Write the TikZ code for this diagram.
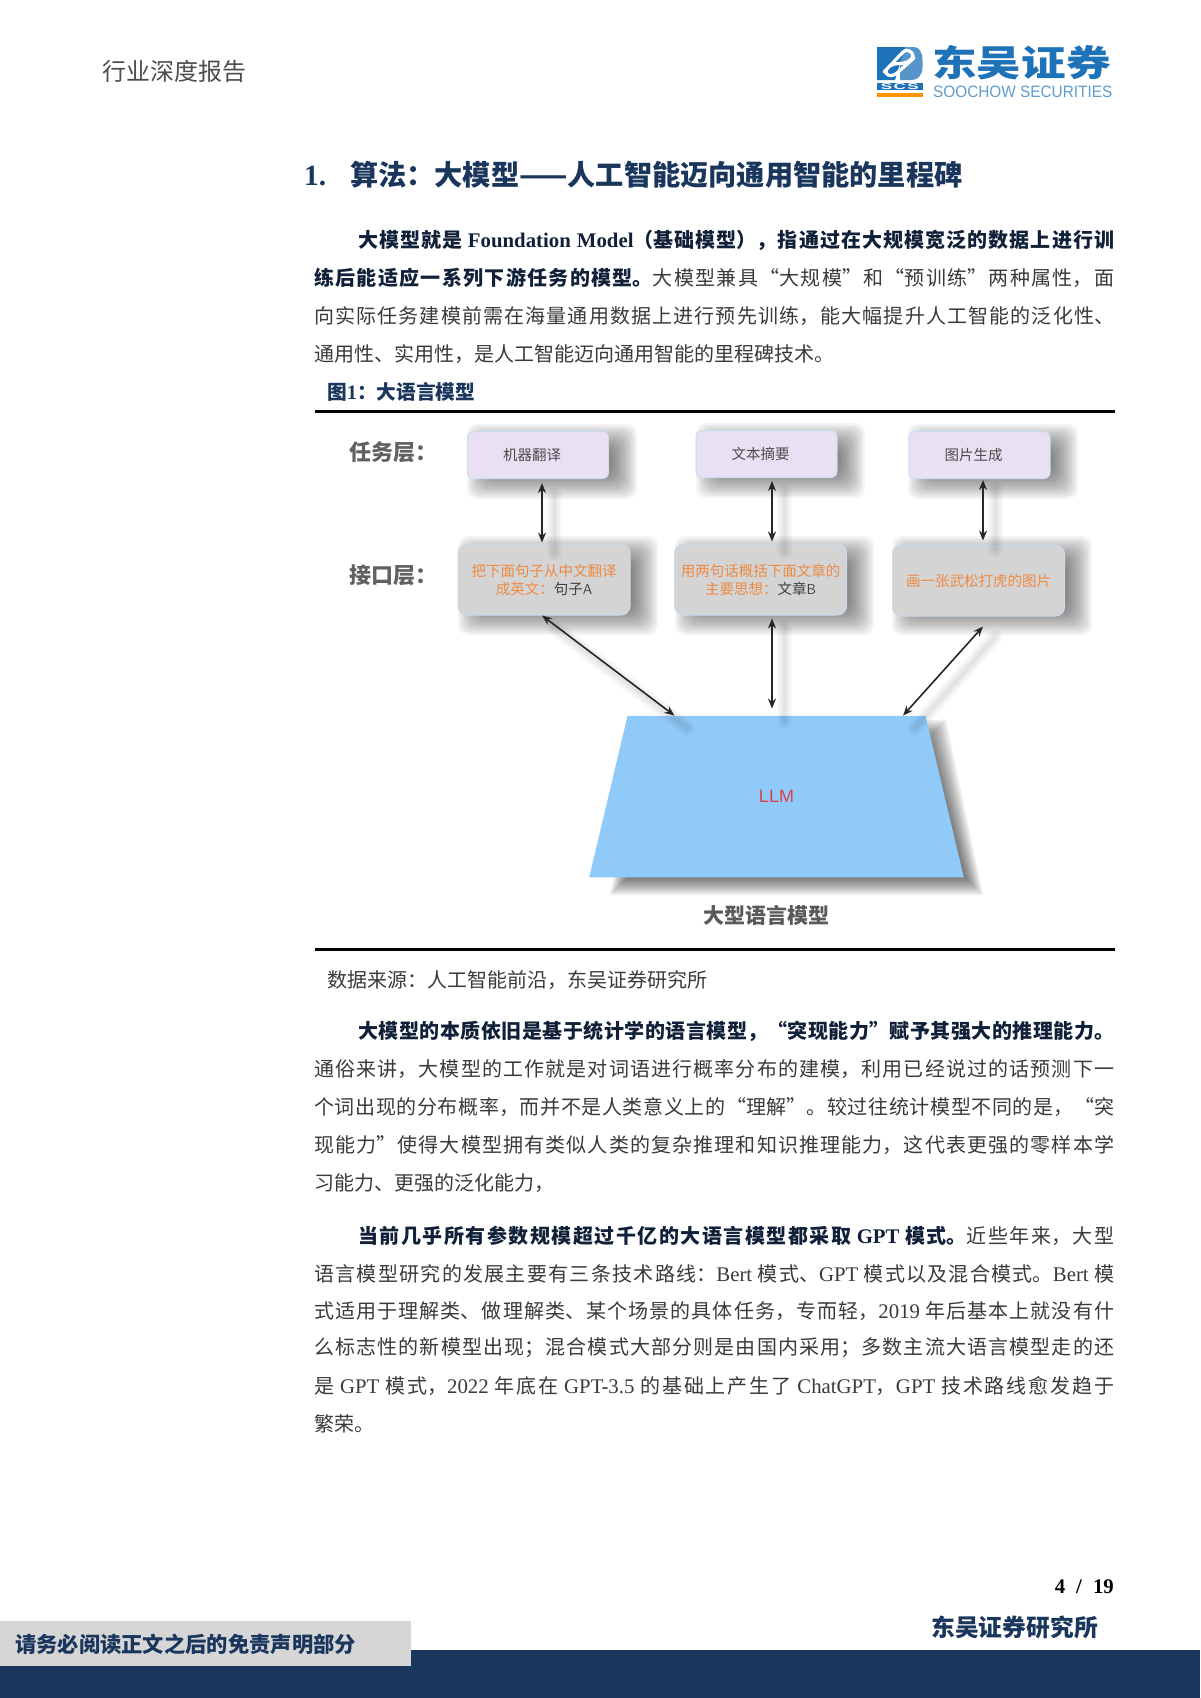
\documentclass[tikz,border=0pt]{standalone}
\usepackage{fontspec}
\usetikzlibrary{shapes.geometric,calc,arrows.meta}
\setmainfont{Noto Sans CJK SC}
\newfontfamily\lat[Scale=1.04]{Liberation Serif}
\newfontfamily\lsans{Liberation Sans}
\XeTeXlinebreaklocale "zh"
\XeTeXlinebreakskip=0pt plus 3pt
\definecolor{navy}{HTML}{1A365D}
\definecolor{bodyc}{HTML}{3A3A3A}
\definecolor{taskc}{HTML}{E9E1F3}
\definecolor{ifacec}{HTML}{D4D4D4}
\definecolor{edgec}{HTML}{C9DCF0}
\definecolor{llmc}{HTML}{90CAF9}
\definecolor{orangec}{HTML}{EE8A45}
\definecolor{logoblue}{HTML}{1E72B8}
\newcommand\lt[1]{{\lat #1}}
\newcommand\softrect[4]{\foreach \i in {-14,-12,...,14}{\fill[black,opacity=.045,rounded corners=10pt] ({#1-(\i)},{#2-(\i)}) rectangle ({#3+(\i)},{#4+(\i)});}}
\newcommand\softline[4]{\foreach \w in {3,7,11,15}{\draw[black,opacity=.028,line width=\w pt,line cap=round] (#1,#2) -- (#3,#4);}}
\newcommand\jl[5]{\node[inner sep=0,anchor=west,text=#4] (#1) at (#2) {\parbox{#3pt}{\parindent=0pt\parfillskip=0pt\tolerance=9999\hbadness=10000\relax #5}};}
\tikzset{
 bl/.style={inner sep=0,anchor=west,text=#1},
 taskbox/.style={draw=edgec,line width=1pt,fill=taskc,rounded corners=6pt,minimum width=141pt,minimum height=47pt,inner sep=0,font=\fontsize{14.5}{17}\selectfont,text=black!70},
 ifacebox/.style={draw=edgec,line width=1pt,fill=ifacec,rounded corners=9pt,minimum width=172pt,minimum height=71pt,inner sep=0,align=center,font=\fontsize{14.5}{18}\selectfont,text=orangec},
 dbl/.style={{Stealth[length=10pt,width=8pt]}-{Stealth[length=10pt,width=8pt]},line width=1.6pt,black!85},
 lay/.style={inner sep=0,anchor=west,font=\bfseries\fontsize{22}{24}\selectfont,text=black!62}
}
\begin{document}
\begin{tikzpicture}[x=1pt,y=-1pt]
\useasboundingbox (0,0) rectangle (1200,1698);
\fill[white] (0,0) rectangle (1200,1698);
% header
\node[bl=black!70,font=\fontsize{24}{26}\selectfont] (hdr) at (102,71) {行业深度报告};
% logo
\fill[logoblue!75!white] (900,47) -- (914,47) .. controls (919,47) and (922.5,52) .. (922.5,60) -- (922.5,67) .. controls (922.5,75) and (918,80) .. (912,80) -- (900,80) -- cycle;
\fill[logoblue] (877,47) -- (905,47) -- (895,80) -- (877,80) -- cycle;
\draw[white,line width=3.2pt,line cap=round] (884,72) -- (903,52) .. controls (907,48) and (913,52) .. (913,56) .. controls (913,60) and (905,64) .. (899,63.5) .. controls (892,63) and (885,68) .. (886,73) .. controls (888,77) and (894,76) .. (897,73) -- (914,58);
\fill[logoblue] (877,83) rectangle (922.5,90);
\node[inner sep=0,text=white,font=\lsans\bfseries\fontsize{8.5}{9}\selectfont] (scs) at (899.7,86.5) {\addfontfeature{FakeStretch=2}S\,C\,S};
\fill[orange!85!yellow] (877,93) rectangle (922.5,97);
\node[bl=logoblue,font=\bfseries\fontsize{36}{38}\selectfont] (lgz) at (932,63) {\addfontfeature{FakeStretch=1.24}东吴证券};
\node[bl=logoblue!70,font=\lsans\fontsize{16.5}{18}\selectfont] (lge) at (933,92) {\addfontfeature{FakeStretch=.93}SOOCHOW SECURITIES};
% heading
\node[bl=navy,font=\bfseries\fontsize{28.2}{30}\selectfont] (head) at (304,175) {\lt{1.}\hspace{24pt}算法：大模型——人工智能迈向通用智能的里程碑};
% para 1
\begin{scope}[font=\fontsize{20}{24}\selectfont]
\jl{p1a}{358,240}{756}{navy!60!black}{\bfseries 大模型就是 \lt{Foundation Model}（基础模型），指通过在大规模宽泛的数据上进行训}
\jl{p1b}{314,278}{800}{bodyc}{{\bfseries\color{navy!60!black}练后能适应一系列下游任务的模型。}大模型兼具“大规模”和“预训练”两种属性，面}
\jl{p1c}{314,316}{800}{bodyc}{向实际任务建模前需在海量通用数据上进行预先训练，能大幅提升人工智能的泛化性、}
\node[bl=bodyc] (p1d) at (314,354) {通用性、实用性，是人工智能迈向通用智能的里程碑技术。};
\node[bl=navy,font=\bfseries\fontsize{19.7}{22}\selectfont] (figt) at (327,392) {图\lt{1}：大语言模型};
\node[bl=bodyc] (src) at (327,980) {数据来源：人工智能前沿，东吴证券研究所};
% para 2
\jl{p2a}{358,1031}{756}{navy!60!black}{\bfseries 大模型的本质依旧是基于统计学的语言模型，“突现能力”赋予其强大的推理能力。}
\jl{p2b}{314,1069}{800}{bodyc}{通俗来讲，大模型的工作就是对词语进行概率分布的建模，利用已经说过的话预测下一}
\jl{p2c}{314,1107}{800}{bodyc}{个词出现的分布概率，而并不是人类意义上的“理解”。较过往统计模型不同的是，“突}
\jl{p2d}{314,1145}{800}{bodyc}{现能力”使得大模型拥有类似人类的复杂推理和知识推理能力，这代表更强的零样本学}
\node[bl=bodyc] (p2e) at (314,1183) {习能力、更强的泛化能力，};
% para 3
\jl{p3a}{358,1236}{756}{bodyc}{{\bfseries\color{navy!60!black}当前几乎所有参数规模超过千亿的大语言模型都采取 \lt{GPT} 模式。}近些年来，大型}
\jl{p3b}{314,1274}{800}{bodyc}{语言模型研究的发展主要有三条技术路线：\lt{Bert} 模式、\lt{GPT} 模式以及混合模式。\lt{Bert} 模}
\jl{p3c}{314,1311}{800}{bodyc}{式适用于理解类、做理解类、某个场景的具体任务，专而轻，\lt{2019} 年后基本上就没有什}
\jl{p3d}{314,1348}{800}{bodyc}{么标志性的新模型出现；混合模式大部分则是由国内采用；多数主流大语言模型走的还}
\jl{p3e}{314,1386}{800}{bodyc}{是 \lt{GPT} 模式，\lt{2022} 年底在 \lt{GPT-3.5} 的基础上产生了 \lt{ChatGPT}，\lt{GPT} 技术路线愈发趋于}
\node[bl=bodyc] (p3f) at (314,1424) {繁荣。};
\end{scope}
% rules
\draw[black,line width=2.6pt] (315,411.5) -- (1115,411.5);
\draw[black,line width=2.6pt] (315,949.5) -- (1115,949.5);
% soft shadows
\softrect{481}{438}{623}{485}
\softrect{710}{437}{851}{484}
\softrect{922}{438}{1064}{485}
\softrect{472}{550}{644}{621}
\softrect{689}{550}{860}{621}
\softrect{906}{550}{1078}{621}
\foreach \i in {-8,-6,...,8}{\fill[black,opacity=.07] ({655-(\i)},{728-(\i)}) -- ({938+(\i)},{728-(\i)}) -- ({975+(\i)},{887+(\i)}) -- ({618-(\i)},{887+(\i)}) -- cycle;}
% layer labels
\node[lay] (lay1) at (349,452) {任务层：};
\node[lay] (lay2) at (349,575) {接口层：};
% boxes
\node[taskbox] (t1) at (538,455) {\raisebox{-5pt}{\hspace{-12pt}机器翻译}};
\node[taskbox] (t2) at (766.5,454) {\raisebox{-5pt}{\hspace{-12pt}文本摘要}};
\node[taskbox] (t3) at (979.5,455) {\raisebox{-5pt}{\hspace{-12pt}图片生成}};
\node[ifacebox] (i1) at (544,579.5) {把下面句子从中文翻译\\成英文：{\color{black!75}句子\textsf{A}}};
\node[ifacebox] (i2) at (760.5,579.5) {用两句话概括下面文章的\\主要思想：{\color{black!75}文章\textsf{B}}};
\node[ifacebox] (i3) at (978.5,580.5) {画一张武松打虎的图片};
\node[trapezium,trapezium left angle=70,trapezium right angle=70,trapezium stretches=true,fill=llmc,inner sep=0,minimum width=375pt,minimum height=161.6pt,text={rgb,255:red,217;green,67;blue,78},font=\lsans\fontsize{18}{20}\selectfont] (llm) at (776.5,796.6) {LLM};
\node[inner sep=0,text=black!65,font=\bfseries\fontsize{21}{24}\selectfont] (llmn) at (766,915) {大型语言模型};
% connector ends
\coordinate (a1t) at ($(t1.south)+(4,4)$);
\coordinate (a1b) at ($(i1.north)+(-2,-1)$);
\coordinate (a2t) at ($(t2.south)+(5.5,3)$);
\coordinate (a2b) at ($(i2.north)+(11.5,-2)$);
\coordinate (a3t) at ($(t3.south)+(3.5,1)$);
\coordinate (a3b) at ($(i3.north)+(4.5,-4)$);
\coordinate (b1t) at ($(i1.south)+(-2,0)$);
\coordinate (b1b) at ($(llm.north)+(-102,0)$);
\coordinate (b2t) at ($(i2.south)+(11.5,3)$);
\coordinate (b2b) at ($(llm.north)+(-4.5,-7)$);
\coordinate (b3t) at ($(i3.south)+(4.5,10)$);
\coordinate (b3b) at ($(llm.north)+(126.5,0)$);
% connector shadows
\softline{554}{495}{554}{553}
\softline{784}{492}{784}{552}
\softline{995}{489}{995}{550}
\softline{554}{627}{687}{728}
\softline{784}{628}{784}{722}
\softline{995}{637}{915}{728}
% connectors
\draw[dbl] (a1t) -- (a1b);
\draw[dbl] (a2t) -- (a2b);
\draw[dbl] (a3t) -- (a3b);
\draw[dbl] (b1t) -- (b1b);
\draw[dbl] (b2t) -- (b2b);
\draw[dbl] (b3t) -- (b3b);
% footer
\node[inner sep=0,anchor=east,text=black,font=\lat\bfseries\fontsize{20}{22}\selectfont] (pg) at (1114,1587) {4\hspace{11pt}/\hspace{11pt}19};
\node[bl=navy,font=\bfseries\fontsize{23.8}{26}\selectfont] (inst) at (931,1627) {东吴证券研究所};
\fill[navy] (0,1649.5) rectangle (1200,1698);
\fill[black!16] (0,1621) rectangle (411,1666);
\node[bl=navy,font=\bfseries\fontsize{21.3}{24}\selectfont] (disc) at (15,1644) {请务必阅读正文之后的免责声明部分};
\end{tikzpicture}
\end{document}
